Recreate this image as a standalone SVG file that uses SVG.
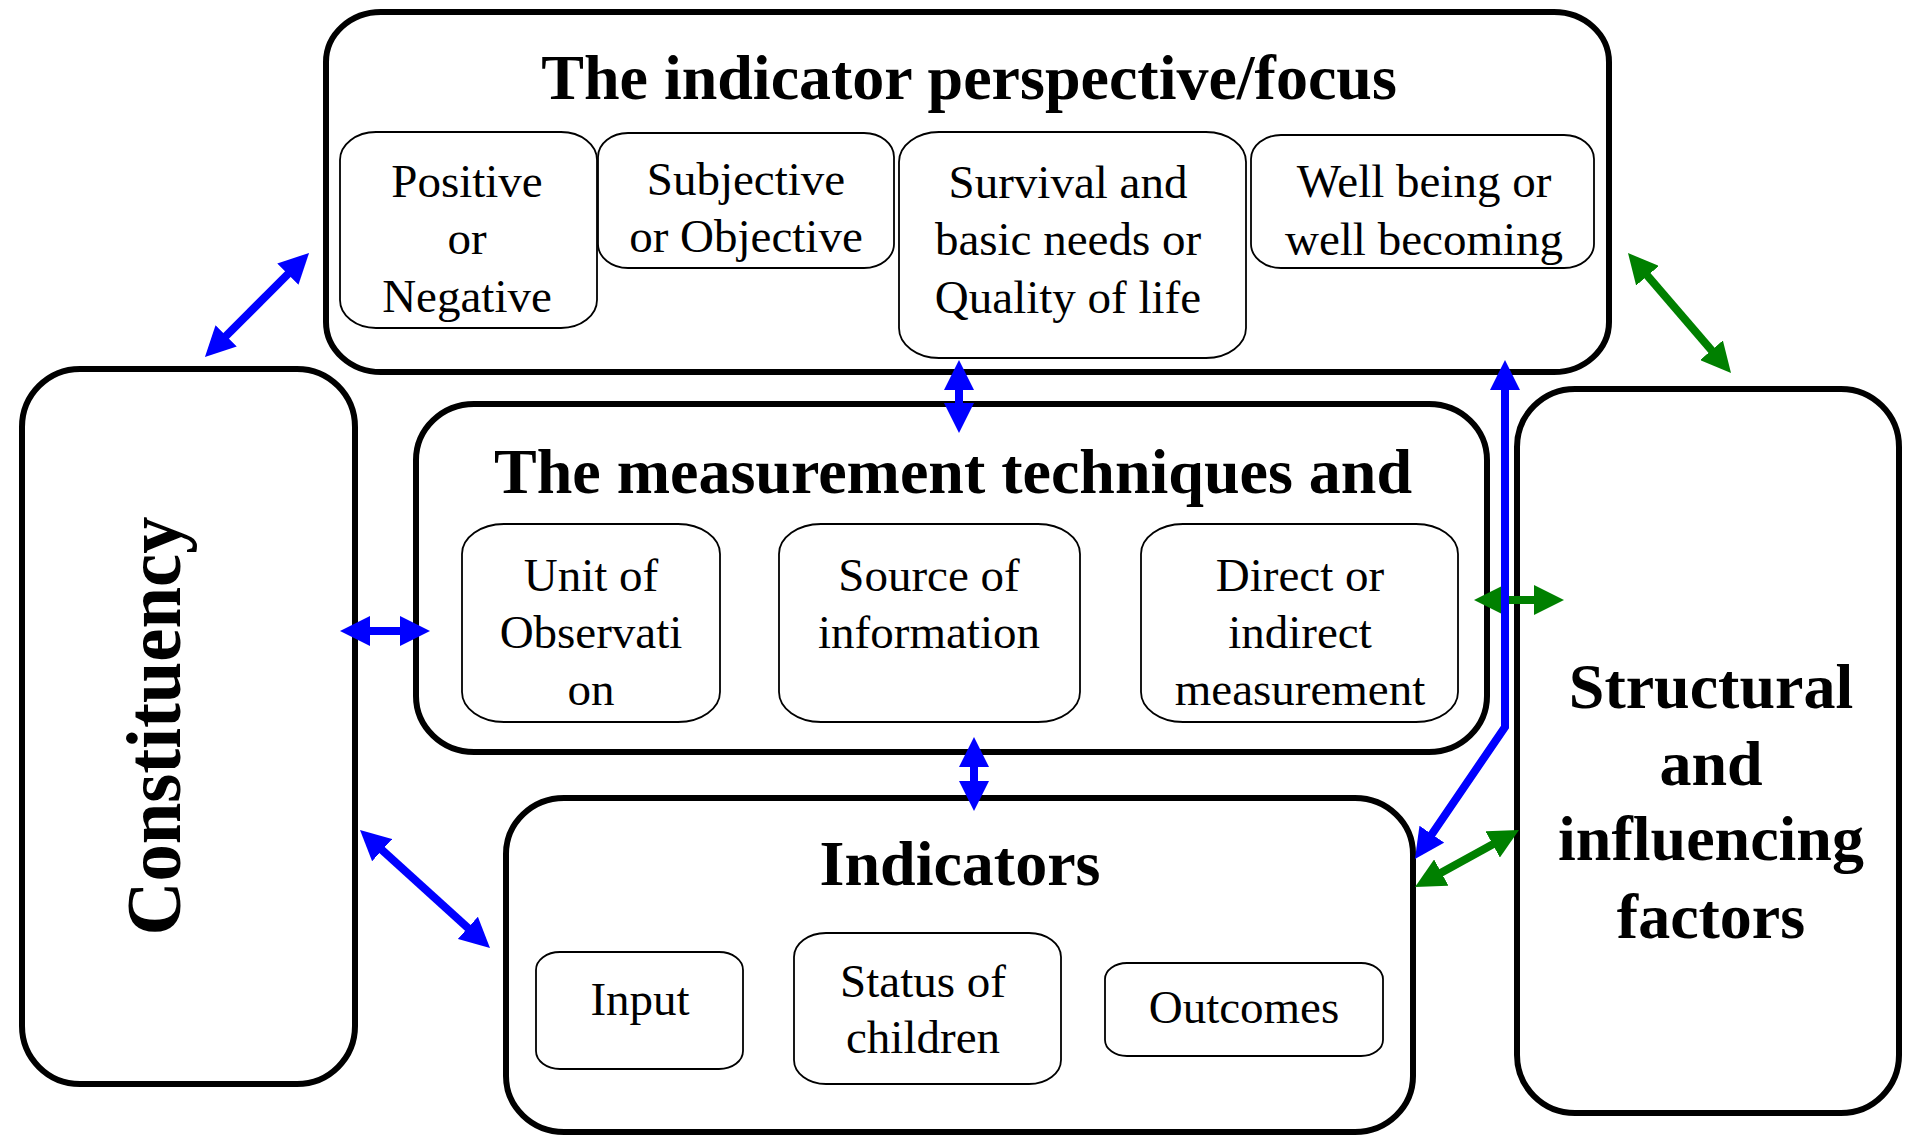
<svg xmlns="http://www.w3.org/2000/svg" width="1905" height="1139" viewBox="0 0 1905 1139">
<defs>
<style>
.big{fill:#fff;stroke:#000;stroke-width:6}
.sub{fill:#fff;stroke:#000;stroke-width:1.8}
.title{font-family:"Liberation Serif","Times New Roman",serif;font-weight:bold;font-size:64px;fill:#000;text-anchor:middle}
.txt{font-family:"Liberation Serif","Times New Roman",serif;font-size:47px;fill:#000;text-anchor:middle}
.blue{fill:none;stroke:#0000ff;stroke-width:8;marker-start:url(#hb);marker-end:url(#hb)}
.green{fill:none;stroke:#008000;stroke-width:8;marker-start:url(#hg);marker-end:url(#hg)}
</style>
<marker id="hb" markerUnits="userSpaceOnUse" markerWidth="30" markerHeight="30" refX="20" refY="15" orient="auto-start-reverse" viewBox="0 0 30 30"><path d="M0,0 L30,15 L0,30 Z" fill="#0000ff"/></marker>
<marker id="hg" markerUnits="userSpaceOnUse" markerWidth="30" markerHeight="30" refX="20" refY="15" orient="auto-start-reverse" viewBox="0 0 30 30"><path d="M0,0 L30,15 L0,30 Z" fill="#008000"/></marker>
</defs>
<rect width="1905" height="1139" fill="#fff"/>

<g id="perspective">
<rect class="big" x="326" y="12" width="1283" height="360" rx="55" ry="50"/>
<text class="title" x="969" y="99">The indicator perspective/focus</text>
</g>
<g id="positive">
<rect class="sub" x="340" y="132" width="257" height="196" rx="36" ry="28"/>
<text class="txt" x="467" y="197">Positive</text>
<text class="txt" x="467" y="254">or</text>
<text class="txt" x="467" y="312">Negative</text>
</g>
<g id="subjective">
<rect class="sub" x="598" y="133" width="296" height="135" rx="30" ry="24"/>
<text class="txt" x="746" y="195">Subjective</text>
<text class="txt" x="746" y="252">or Objective</text>
</g>
<g id="survival">
<rect class="sub" x="899" y="132" width="347" height="226" rx="40" ry="30"/>
<text class="txt" x="1068" y="198">Survival and</text>
<text class="txt" x="1068" y="255">basic needs or</text>
<text class="txt" x="1068" y="313">Quality of life</text>
</g>
<g id="wellbeing">
<rect class="sub" x="1251" y="135" width="343" height="133" rx="30" ry="24"/>
<text class="txt" x="1424" y="197">Well being or</text>
<text class="txt" x="1424" y="255">well becoming</text>
</g>

<g id="measurement">
<rect class="big" x="416" y="404" width="1071" height="348" rx="58" ry="56"/>
<text class="title" x="953" y="493">The measurement techniques and</text>
</g>
<g id="unit">
<rect class="sub" x="462" y="524" width="258" height="198" rx="42" ry="30"/>
<text class="txt" x="591" y="591">Unit of</text>
<text class="txt" x="591" y="648">Observati</text>
<text class="txt" x="591" y="705">on</text>
</g>
<g id="source">
<rect class="sub" x="779" y="524" width="301" height="198" rx="42" ry="30"/>
<text class="txt" x="929" y="591">Source of</text>
<text class="txt" x="929" y="648">information</text>
</g>
<g id="direct">
<rect class="sub" x="1141" y="524" width="317" height="198" rx="42" ry="30"/>
<text class="txt" x="1300" y="591">Direct or</text>
<text class="txt" x="1300" y="648">indirect</text>
<text class="txt" x="1300" y="705">measurement</text>
</g>

<g id="indicators">
<rect class="big" x="506" y="798" width="907" height="334" rx="58" ry="56"/>
<text class="title" x="960" y="885">Indicators</text>
</g>
<g id="input">
<rect class="sub" x="536" y="952" width="207" height="117" rx="24" ry="18"/>
<text class="txt" x="640" y="1015">Input</text>
</g>
<g id="status">
<rect class="sub" x="794" y="933" width="267" height="151" rx="32" ry="24"/>
<text class="txt" x="923" y="997">Status of</text>
<text class="txt" x="923" y="1053">children</text>
</g>
<g id="outcomes">
<rect class="sub" x="1105" y="963" width="278" height="93" rx="22" ry="16"/>
<text class="txt" x="1244" y="1023">Outcomes</text>
</g>

<g id="constituency">
<rect class="big" x="22" y="369" width="333" height="715" rx="58" ry="58"/>
<text class="title" transform="translate(180,726) rotate(-90)" x="0" y="0" style="font-size:78px" textLength="419" lengthAdjust="spacingAndGlyphs">Constituency</text>
</g>

<g id="structural">
<rect class="big" x="1517" y="389" width="382" height="724" rx="58" ry="58"/>
<text class="title" x="1711" y="708">Structural</text>
<text class="title" x="1711" y="785">and</text>
<text class="title" x="1711" y="860">influencing</text>
<text class="title" x="1711" y="938">factors</text>
</g>

<g id="connectors">
<line class="blue" x1="212" y1="350" x2="302" y2="260"/>
<line class="blue" x1="350" y1="631" x2="420" y2="631"/>
<line class="blue" x1="367.4" y1="836.7" x2="482.6" y2="941.3"/>
<line class="blue" x1="959" y1="370" x2="959" y2="423"/>
<line class="blue" x1="974" y1="747" x2="974" y2="801"/>
<line class="green" x1="1634.5" y1="260.6" x2="1724.5" y2="365.4"/>
<line class="green" x1="1484" y1="600" x2="1554" y2="600"/>
<line class="green" x1="1423.8" y1="882.2" x2="1510.2" y2="834.8"/>
<path class="blue" d="M1505,370 L1505,727 L1420.6,850.7"/>
</g>
</svg>
